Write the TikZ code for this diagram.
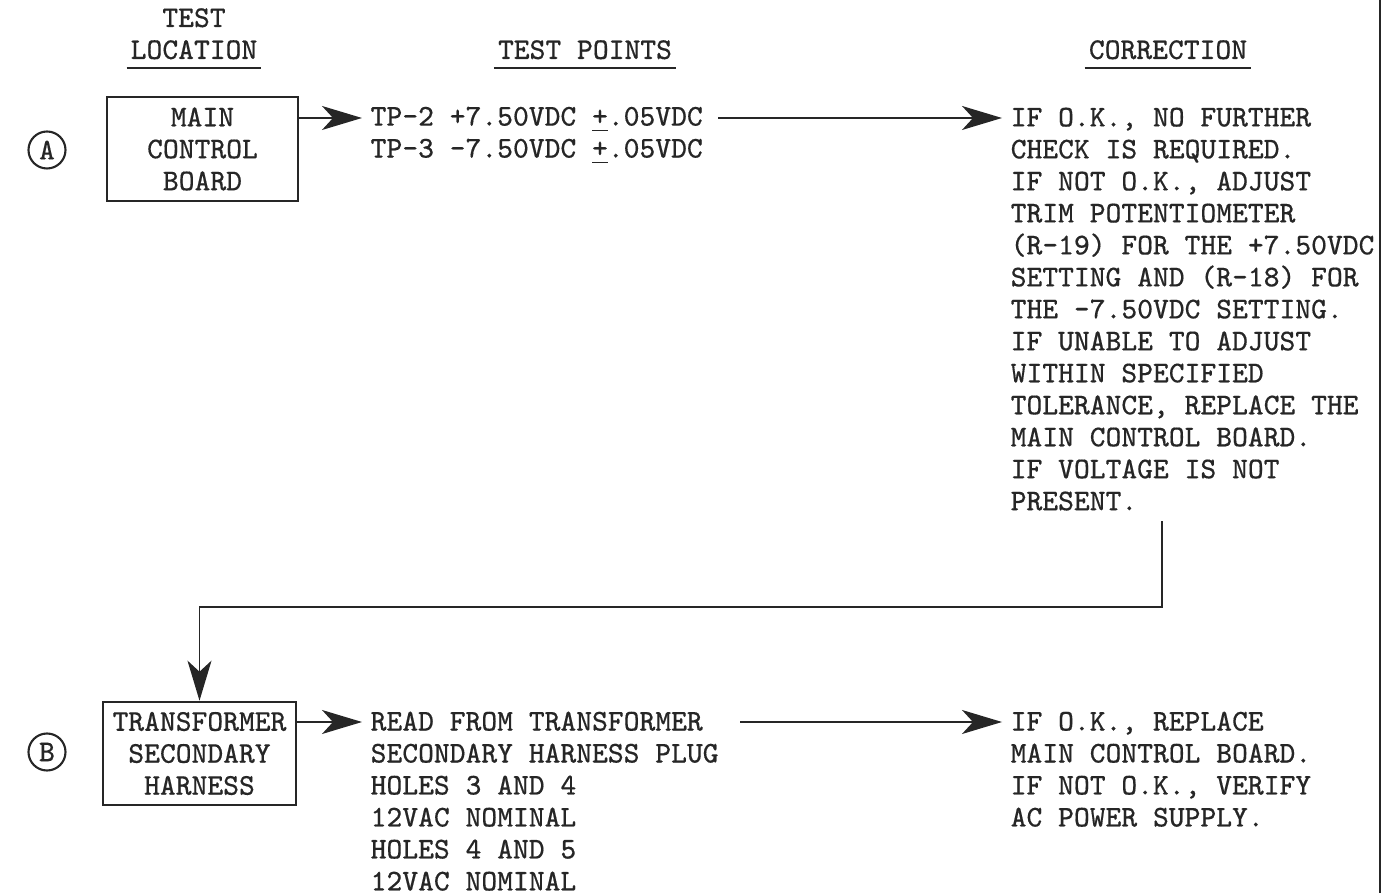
\documentclass[tikz,border=0pt]{standalone}
\usepackage{fontspec}
\setmonofont{Latin Modern Mono}[FakeBold=0.4]
\usetikzlibrary{arrows.meta}

\tikzset{
	typed/.style = {font=\fontsize{8.57}{9.1}\selectfont\ttfamily, inner sep=0pt, text=black!85},
	block/.style = {typed, draw=black!85, line width=0.75pt, align=center},
	tag/.style = {typed, draw=black!85, circle, line width=0.6pt, minimum size=0.37cm},
	column/.style = {typed, align=left, anchor=north west},
	header/.style = {typed, align=center, anchor=south},
	flow/.style = {black!85, line width=0.5pt, -{Stealth[length=4mm,width=2.4mm,inset=1.1mm]}},
	rule/.style = {black!85, line width=0.6pt}
}

\begin{document}
\begin{tikzpicture}
		\useasboundingbox (0,0) rectangle (13.89,-8.93);
		% headings
		\node [header] (loc) at (1.94,-0.60) {TEST\\LOCATION};
		\node [header] (pts) at (5.85,-0.60) {TEST POINTS};
		\node [header] (cor) at (11.68,-0.60) {CORRECTION};
		\draw [rule] ([xshift=-1pt,yshift=-0.8mm]loc.south west) -- ([xshift=1pt,yshift=-0.8mm]loc.south east);
		\draw [rule] ([xshift=-1pt,yshift=-0.8mm]pts.south west) -- ([xshift=1pt,yshift=-0.8mm]pts.south east);
		\draw [rule] ([xshift=-1pt,yshift=-0.8mm]cor.south west) -- ([xshift=1pt,yshift=-0.8mm]cor.south east);

		% row A
		\node [tag] (tagA) at (0.47,-1.50) {A};
		\node [block, minimum width=1.91cm, minimum height=1.04cm] (mcb) at (2.025,-1.49) {MAIN\\CONTROL\\BOARD};
		\node [column] (tpA) at (3.70,-1.06) {TP-2 +7.50VDC \underline{+}.05VDC\\TP-3 -7.50VDC \underline{+}.05VDC};
		\node [column] (corA) at (10.10,-1.07) {IF O.K., NO FURTHER\\CHECK IS REQUIRED.\\IF NOT O.K., ADJUST\\TRIM POTENTIOMETER\\(R-19) FOR THE +7.50VDC\\SETTING AND (R-18) FOR\\THE -7.50VDC SETTING.\\IF UNABLE TO ADJUST\\WITHIN SPECIFIED\\TOLERANCE, REPLACE THE\\MAIN CONTROL BOARD.\\IF VOLTAGE IS NOT\\PRESENT.};
		\coordinate (rowA) at (0,-1.18);
		\draw [flow] (mcb.east |- rowA) -- ([xshift=-0.08cm]tpA.west |- rowA);
		\draw [flow] ([xshift=0.15cm]tpA.east |- rowA) -- ([xshift=-0.08cm]corA.west |- rowA);

		% row B
		\node [tag] (tagB) at (0.47,-7.52) {B};
		\node [block, minimum width=1.93cm, minimum height=1.03cm] (tsh) at (1.995,-7.535) {TRANSFORMER\\SECONDARY\\HARNESS};
		\node [column] (tpB) at (3.70,-7.11) {READ FROM TRANSFORMER\\SECONDARY HARNESS PLUG\\HOLES 3 AND 4\\12VAC NOMINAL\\HOLES 4 AND 5\\12VAC NOMINAL};
		\node [column] (corB) at (10.10,-7.11) {IF O.K., REPLACE\\MAIN CONTROL BOARD.\\IF NOT O.K., VERIFY\\AC POWER SUPPLY.};
		\coordinate (rowB) at (0,-7.22);
		\draw [flow] (tsh.east |- rowB) -- ([xshift=-0.08cm]tpB.west |- rowB);
		\draw [flow] ([xshift=0.21cm]tpB.east |- rowB) -- ([xshift=-0.08cm]corB.west |- rowB);

		% return path
		\coordinate (turn) at (11.62,-6.07);
		\draw [flow] ([yshift=-1mm]turn |- corA.south) -- (turn) -| (tsh.north);
		\draw [rule] (13.80,0) -- (13.80,-8.93);
	\end{tikzpicture}
\end{document}
